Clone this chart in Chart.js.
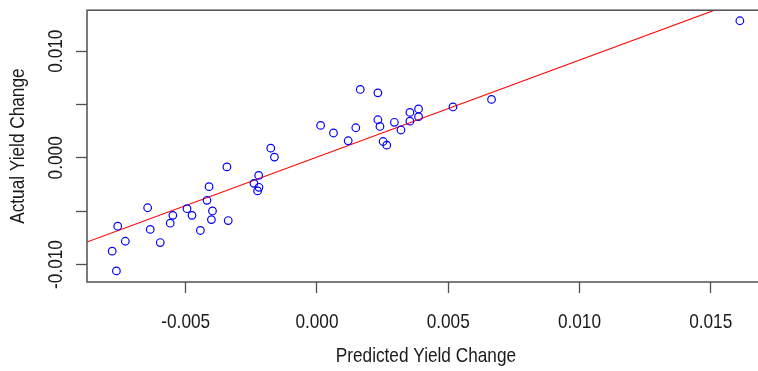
<!DOCTYPE html>
<html>
<head>
<meta charset="utf-8">
<script src="https://cdn.jsdelivr.net/npm/chart.js@4.4.1/dist/chart.umd.min.js"></script>
<style>
  html, body { margin: 0; padding: 0; background: #fff; overflow: hidden; }
  #wrap { width: 758px; height: 371px; overflow: hidden; }
</style>
</head>
<body>
<div id="wrap"><canvas id="yieldChart" width="770" height="371"></canvas></div>
<script>
// predicted vs actual yield change
const predicted = [
  -0.00176, -0.00162, -0.00343, -0.00222, -0.00240, -0.00221, -0.00226, -0.00411,
  -0.00419, -0.00645, -0.00495, -0.00549, -0.00476, -0.00398, -0.00402, -0.00338,
  -0.00559, -0.00759, -0.00635, -0.00444, -0.00730, -0.00597, -0.00780, -0.00764,
   0.00165,  0.00232,  0.00014,  0.00063,  0.00148,  0.00119,  0.00232,  0.00240,
   0.00295,  0.00320,  0.00354,  0.00387,  0.00354,  0.00387,  0.00518,  0.00665,
   0.00252,  0.00266,  0.01611
];
const actual = [
   0.00091,  0.00007, -0.00085, -0.00165, -0.00239, -0.00276, -0.00310, -0.00270,
  -0.00398, -0.00468, -0.00477, -0.00539, -0.00539, -0.00498, -0.00579, -0.00588,
  -0.00613, -0.00641, -0.00671, -0.00681, -0.00782, -0.00794, -0.00875, -0.01060,
   0.00641,  0.00609,  0.00304,  0.00233,  0.00282,  0.00160,  0.00357,  0.00294,
   0.00333,  0.00261,  0.00426,  0.00458,  0.00344,  0.00386,  0.00477,  0.00548,
   0.00153,  0.00119,  0.01285
];

// fitted line, its two ends at the plot edges
const fitX = [-0.00876, 0.01706];
const fitY = [-0.00789, 0.01558];

const xTicks = [-0.005, 0.000, 0.005, 0.010, 0.015];
const yTicks = [-0.010, -0.005, 0.000, 0.005, 0.010];
const yLabelled = [-0.010, 0.000, 0.010];

const FONT = '21px "Liberation Sans", Arial, sans-serif';
const TXT = '#1a1a1a';
const AXIS = '#505050';

// narrow text (no condensed font installed, so squeeze it)
function narrowText(ctx, txt, x, y, upright) {
  ctx.save();
  ctx.translate(x, y);
  if (upright) ctx.rotate(-Math.PI / 2);
  ctx.scale(0.82, 1);
  ctx.fillText(txt, 0, 0);
  ctx.restore();
}

const framePlugin = {
  id: 'frame',
  afterDraw(chart) {
    const { ctx, chartArea: a, scales } = chart;
    ctx.save();
    ctx.strokeStyle = AXIS;
    ctx.lineWidth = 1.5;
    ctx.strokeRect(a.left, a.top, a.right - a.left, a.bottom - a.top);

    ctx.fillStyle = TXT;
    ctx.font = FONT;
    ctx.textAlign = 'center';
    ctx.textBaseline = 'middle';

    xTicks.forEach(v => {
      narrowText(ctx, v.toFixed(3), scales.x.getPixelForValue(v), 322, false);
    });
    yLabelled.forEach(v => {
      narrowText(ctx, v.toFixed(3), 56, scales.y.getPixelForValue(v), true);
    });

    narrowText(ctx, 'Actual Yield Change', 18, (a.top + a.bottom) / 2, true);
    narrowText(ctx, 'Predicted Yield Change', (a.left + a.right) / 2, 356, false);
    ctx.restore();
  }
};

const points = predicted.map((x, i) => ({ x: x, y: actual[i] }));
const fitLine = fitX.map((x, i) => ({ x: x, y: fitY[i] }));

new Chart(document.getElementById('yieldChart'), {
  type: 'scatter',
  data: {
    datasets: [
      {
        data: points,
        pointStyle: 'circle',
        pointRadius: 3.8,
        borderWidth: 1.2,
        borderColor: '#0000ff',
        backgroundColor: 'rgba(0,0,0,0)',
        clip: false
      },
      {
        type: 'line',
        data: fitLine,
        borderColor: '#ff0000',
        borderWidth: 1.1,
        pointRadius: 0,
        fill: false
      }
    ]
  },
  options: {
    responsive: false,
    animation: false,
    layout: { padding: { top: 7, right: 4, left: 0, bottom: 0 } },
    plugins: { legend: { display: false }, tooltip: { enabled: false } },
    scales: {
      x: {
        type: 'linear',
        min: -0.00876,
        max: 0.01706,
        afterBuildTicks: s => { s.ticks = xTicks.map(v => ({ value: v })); },
        afterFit: s => { s.height = 89; },
        border: { display: false },
        grid: { drawOnChartArea: false, drawTicks: true, tickLength: 11, tickColor: AXIS, tickWidth: 1.3 },
        ticks: { callback: () => '' }
      },
      y: {
        type: 'linear',
        min: -0.01164,
        max: 0.01384,
        afterBuildTicks: s => { s.ticks = yTicks.map(v => ({ value: v })); },
        afterFit: s => { s.width = 87; },
        border: { display: false },
        grid: { drawOnChartArea: false, drawTicks: true, tickLength: 11, tickColor: AXIS, tickWidth: 1.3 },
        ticks: { callback: () => '' }
      }
    }
  },
  plugins: [framePlugin]
});
</script>
</body>
</html>
